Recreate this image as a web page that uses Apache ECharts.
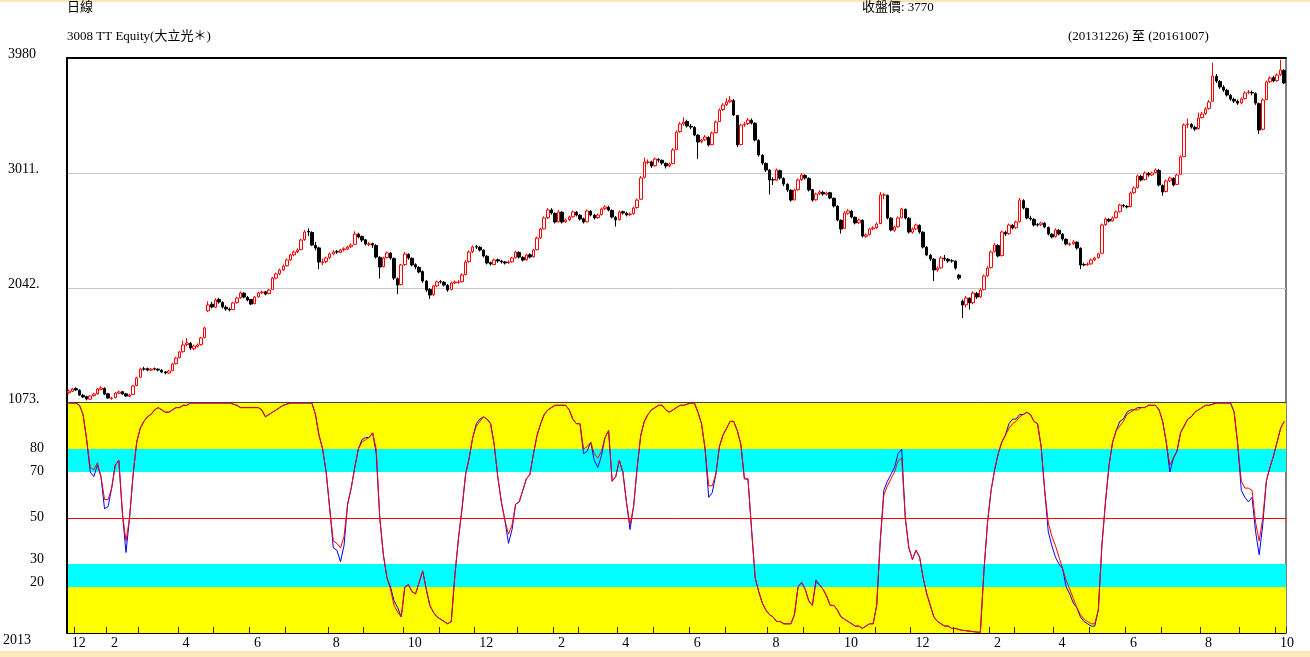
<!DOCTYPE html>
<html><head><meta charset="utf-8">
<script src="https://cdn.jsdelivr.net/npm/echarts@6/dist/echarts.min.js"></script>
<style>html,body{margin:0;padding:0;background:#fff;}#c{width:1310px;height:657px;}</style>
</head><body><div id="c"></div>
<script>
// Each sample = about two trading days, 2013-12-26 .. 2016-10-07
const opens = [1160,1172,1195,1180,1138,1126,1105,1135,1150,1188,
1195,1150,1112,1118,1155,1168,1150,1130,1145,1220,
1290,1360,1362,1350,1361,1358,1350,1335,1325,1345,
1405,1455,1505,1565,1575,1530,1550,1565,1625,1850,
1905,1880,1945,1920,1880,1862,1860,1918,1960,1998,
1962,1945,1910,1968,2002,2010,1995,2030,2125,2162,
2195,2230,2280,2322,2348,2365,2450,2520,2510,2400,
2380,2255,2265,2298,2330,2348,2342,2365,2370,2390,
2410,2495,2475,2448,2410,2415,2400,2300,2222,2298,
2335,2290,2120,2070,2240,2325,2292,2238,2215,2180,
2100,2030,1985,2060,2095,2090,2065,2030,2085,2090,
2095,2155,2265,2348,2390,2385,2360,2310,2255,2240,
2280,2268,2262,2255,2262,2298,2342,2300,2280,2322,
2305,2365,2465,2540,2635,2700,2670,2600,2680,2600,
2618,2642,2680,2655,2625,2600,2688,2655,2635,2660,
2710,2722,2695,2638,2618,2685,2672,2660,2668,2720,
2790,2975,3100,3105,3072,3125,3118,3092,3072,3090,
3210,3360,3425,3445,3405,3395,3330,3275,3290,3310,
3250,3350,3445,3545,3588,3612,3620,3495,3250,3418,
3428,3455,3430,3285,3160,3092,3035,2955,2950,3030,
2965,2915,2865,2785,2870,2955,2990,2965,2870,2785,
2838,2848,2832,2845,2798,2730,2612,2545,2672,2688,
2638,2592,2612,2478,2492,2540,2550,2585,2825,2822,
2630,2528,2558,2635,2705,2630,2512,2540,2570,2512,
2385,2318,2285,2195,2212,2292,2285,2272,2268,2150,
1930,1900,1955,1918,1995,1968,2030,2145,2215,2350,
2400,2315,2510,2500,2570,2550,2600,2778,2712,2630,
2620,2575,2575,2588,2552,2495,2475,2528,2495,2452,
2410,2415,2428,2375,2240,2238,2245,2280,2298,2335,
2575,2620,2608,2635,2685,2738,2730,2728,2845,2888,
2982,2955,3008,2995,3015,3032,2905,2855,2945,2965,
2915,3000,3150,3420,3420,3395,3385,3478,3512,3555,
3615,3825,3782,3735,3708,3665,3632,3615,3602,3638,
3690,3690,3680,3595,3380,3630,3780,3815,3790,3840,3875];
const closes = [1174,1191,1183,1140,1124,1107,1132,1149,1191,1200,
1149,1115,1115,1157,1166,1149,1132,1140,1216,1284,
1359,1359,1351,1359,1359,1351,1334,1326,1343,1402,
1452,1503,1562,1579,1536,1553,1562,1621,1705,1899,
1882,1941,1924,1882,1865,1857,1916,1958,2000,1966,
1941,1907,1966,2000,2008,1991,2025,2126,2160,2194,
2227,2278,2320,2345,2362,2446,2514,2514,2404,2379,
2261,2261,2295,2329,2345,2345,2362,2371,2387,2404,
2497,2472,2446,2413,2413,2404,2303,2219,2295,2337,
2295,2126,2067,2236,2329,2295,2236,2219,2177,2101,
2025,1983,2059,2093,2093,2067,2025,2084,2093,2093,
2152,2261,2345,2387,2387,2362,2312,2253,2244,2278,
2270,2261,2253,2261,2295,2345,2303,2278,2320,2303,
2362,2463,2539,2632,2699,2674,2598,2683,2598,2615,
2640,2683,2657,2623,2598,2691,2657,2632,2657,2708,
2725,2699,2640,2615,2683,2674,2657,2666,2716,2783,
2969,3104,3104,3070,3129,3120,3095,3070,3087,3205,
3356,3424,3440,3407,3398,3331,3272,3289,3314,3247,
3348,3440,3542,3584,3609,3626,3500,3247,3415,3424,
3457,3432,3289,3163,3095,3036,2952,2952,3036,2969,
2918,2868,2783,2868,2952,2994,2969,2868,2783,2834,
2851,2834,2842,2800,2733,2615,2539,2674,2691,2640,
2590,2615,2480,2489,2539,2548,2581,2826,2826,2632,
2531,2556,2632,2708,2632,2514,2539,2573,2514,2387,
2320,2287,2194,2210,2295,2287,2270,2270,2210,2126,
1899,1958,1916,2000,1966,2025,2143,2210,2345,2404,
2312,2514,2497,2573,2548,2598,2783,2716,2632,2623,
2573,2573,2590,2556,2497,2472,2531,2497,2455,2413,
2413,2430,2379,2236,2236,2244,2278,2295,2329,2573,
2623,2606,2632,2683,2741,2733,2725,2842,2885,2986,
2952,3011,2994,3011,3036,2910,2851,2944,2969,2910,
2994,3146,3415,3424,3398,3381,3474,3508,3550,3609,
3828,3786,3736,3710,3668,3634,3617,3600,3634,3685,
3693,3685,3600,3373,3626,3778,3811,3786,3836,3879,3770];
const lows = [1150,1165,1175,1132,1115,1095,1100,1128,1145,1180,
1140,1108,1100,1112,1148,1142,1125,1122,1140,1215,
1285,1345,1340,1342,1348,1340,1325,1315,1318,1340,
1398,1448,1498,1550,1520,1518,1540,1558,1618,1840,
1870,1875,1910,1870,1850,1845,1855,1910,1950,1955,
1930,1898,1905,1960,1992,1980,1988,2025,2115,2150,
2185,2222,2270,2310,2335,2360,2440,2480,2395,2360,
2200,2235,2250,2285,2318,2330,2335,2350,2360,2380,
2405,2460,2430,2400,2395,2380,2290,2120,2215,2290,
2280,2110,1990,2065,2230,2280,2225,2200,2165,2085,
2010,1950,1975,2050,2080,2055,2010,2022,2075,2078,
2090,2150,2255,2335,2370,2350,2300,2240,2230,2235,
2255,2248,2240,2245,2255,2290,2290,2265,2272,2292,
2300,2360,2455,2535,2625,2660,2585,2595,2585,2590,
2605,2635,2645,2610,2585,2595,2645,2620,2625,2652,
2698,2688,2628,2560,2610,2660,2645,2648,2660,2712,
2785,2965,3085,3055,3065,3100,3080,3050,3060,3085,
3205,3350,3410,3395,3380,3320,3130,3262,3280,3235,
3245,3345,3440,3535,3575,3600,3490,3230,3245,3400,
3415,3420,3278,3150,3080,3020,2830,2910,2945,2955,
2900,2850,2770,2780,2862,2945,2955,2855,2770,2778,
2825,2820,2820,2790,2720,2605,2500,2540,2660,2628,
2578,2580,2468,2465,2485,2530,2540,2580,2790,2620,
2520,2515,2550,2628,2620,2500,2500,2530,2500,2375,
2310,2270,2100,2180,2205,2270,2255,2255,2195,2110,
1790,1880,1860,1905,1950,1960,2022,2135,2205,2340,
2300,2308,2480,2490,2535,2540,2595,2705,2620,2610,
2560,2560,2565,2545,2485,2460,2468,2485,2440,2400,
2395,2405,2365,2200,2225,2228,2238,2270,2290,2330,
2565,2595,2600,2628,2678,2720,2712,2722,2835,2880,
2940,2948,2980,2985,3005,2898,2820,2848,2935,2898,
2908,2995,3145,3390,3385,3365,3378,3470,3500,3545,
3610,3770,3720,3695,3655,3620,3600,3585,3590,3630,
3675,3665,3585,3340,3370,3625,3770,3775,3780,3830,3760];
const highs = [1185,1200,1205,1188,1150,1135,1140,1158,1198,1215,
1205,1158,1125,1165,1178,1175,1158,1150,1225,1295,
1370,1378,1372,1368,1372,1365,1358,1342,1350,1410,
1462,1512,1600,1620,1588,1565,1575,1630,1715,1930,
1925,1955,1960,1930,1895,1878,1925,1968,2012,2008,
1975,1950,1975,2010,2020,2018,2035,2135,2172,2205,
2240,2290,2332,2358,2375,2458,2530,2545,2520,2430,
2390,2290,2305,2340,2360,2362,2372,2385,2398,2418,
2520,2508,2485,2455,2428,2425,2410,2310,2305,2350,
2345,2300,2130,2245,2345,2335,2300,2250,2225,2190,
2110,2040,2068,2105,2108,2100,2075,2095,2105,2108,
2165,2275,2360,2400,2405,2395,2368,2318,2265,2290,
2290,2280,2270,2275,2305,2355,2350,2310,2330,2335,
2372,2475,2550,2645,2715,2715,2680,2700,2690,2628,
2652,2695,2690,2665,2635,2702,2698,2665,2668,2720,
2740,2735,2705,2648,2695,2695,2685,2678,2728,2795,
2985,3140,3125,3115,3140,3135,3125,3100,3098,3220,
3370,3440,3480,3460,3425,3405,3340,3300,3330,3320,
3360,3452,3555,3600,3640,3660,3635,3500,3425,3440,
3475,3470,3440,3295,3170,3100,3045,2975,3048,3040,
2975,2925,2875,2880,2965,3010,3000,2975,2878,2845,
2865,2860,2855,2852,2805,2740,2620,2690,2705,2700,
2645,2628,2620,2502,2550,2562,2595,2850,2840,2830,
2640,2568,2645,2718,2712,2640,2552,2585,2578,2520,
2395,2330,2295,2225,2310,2320,2295,2285,2275,2160,
1945,1975,1965,2015,2010,2040,2155,2225,2360,2420,
2412,2525,2525,2585,2580,2610,2800,2790,2720,2650,
2630,2590,2600,2595,2560,2505,2545,2540,2505,2460,
2425,2445,2435,2385,2255,2258,2290,2305,2340,2585,
2635,2630,2645,2695,2752,2750,2742,2855,2898,2998,
2995,3025,3020,3022,3050,3045,2915,2955,2980,2975,
3005,3160,3428,3470,3432,3410,3520,3525,3565,3625,
3940,3845,3795,3750,3720,3678,3645,3630,3648,3700,
3710,3705,3690,3605,3640,3790,3825,3830,3850,3965,3885];
const kValues = [100,100,100,99,95,84,70,68,73,68,
54,55,63,73,75,52,35,50,69,83,
89,92,94,95,97,98,97,96,96,97,
98,98,99,99,100,100,100,100,100,100,
100,100,100,100,100,100,99.5,99,98,98,
98,98,98,98,97,94,95,96,97,98,
99,99.5,100,100,100,100,100,100,100,95,
86,80,70,54,37,36,31,38,56,63,
72,80,84,85,85,87,78,50,34,24,
20,14,11,7,20,21,18,17,22,27,
19,12,9,7,6,5,4,5,25,41,
54,69,76,85,91,93,94,93,91,82,
68,57,49,39,45,56,57,62,67,69,
78,86,91,95,97,98,99,99,99,99,
97,93,91,91,78,79,83,75,72,77,
85,88,66,68,75,70,57,45,55,72,
86,92,95,97,98,99,99,97,96,97,
98,99,99,99.5,100,100,96,91,80,59,
61,69,81,86,89,92,92,88,82,67,
67,45,24,18,13,10,8,7,5,5,
4,4,4,8,20,22,19,14,12,23,
21,19,16,12,12,10,7,6,5,4,
3,3,2,3,4,4,12,40,62,66,
69,72,78,80,50,37,32,36,33,24,
17,12,7,5,4,3,3,2,2,1.5,
1.2,1,0.8,0.6,0.4,0.3,27,48,62,71,
78,83,86,91,93,93,95,95,96,95,
92,91,81,62,44,38,33,30,28,20,
17,13,11,7,5,4,3,3,10,38,
57,73,83,88,92,93,96,97,97,98,
98,98,99,99,99,97,92,83,70,76,
79,87,90,93,94,96,97,98,99,99,
99.5,100,100,100,100,100,96,82,62,59,
57,59,44,34,47,66,72,77,83,89,92];
const dValues = [100,100,100,99,95,84,72,71,74,68,
58,58,63,73,75,52,40,50,69,83,
89,92,94,95,97,98,97,96,96,97,
98,98,99,99,100,100,100,100,100,100,
100,100,100,100,100,100,99.5,99,98,98,
98,98,98,98,97,94,95,96,97,98,
99,99.5,100,100,100,100,100,100,100,95,
86,80,70,54,40,39,37,42,56,63,
72,80,83,84,85,87,80,50,34,24,
19,12,9,7,20,21,18,17,22,27,
19,12,9,7,6,5,4,5,25,41,
54,69,76,85,90,92,94,93,91,82,
68,57,49,43,47,56,57,62,67,69,
78,86,91,95,97,98,99,99,99,99,
97,93,91,91,80,81,83,78,76,79,
85,88,66,68,75,70,57,47,55,72,
86,92,95,97,98,99,99,97,96,97,
98,99,99,99.5,100,100,96,91,80,64,
64,69,81,86,89,92,92,88,82,67,
67,45,24,18,13,10,8,7,5,5,
4,4,4,8,20,22,19,14,12,22,
21,19,16,12,12,10,7,6,5,4,
3,3,2,3,4,4,12,40,60,64,
67,70,75,76,50,37,32,36,33,24,
17,12,7,5,4,3,3,2,2,1.5,
1.2,1,0.8,0.6,0.4,0.3,27,48,62,71,
78,83,86,89,91,92,94,95,96,95,
92,91,81,62,48,42,38,33,28,23,
19,15,11,8,6,5,4,4,10,38,
57,73,83,88,90,92,95,96,97,97,
98,98,99,99,99,97,92,83,73,76,
79,87,90,93,94,96,97,98,99,99,
99.5,100,100,100,100,100,96,82,66,63,
63,62,48,40,50,66,72,77,83,89,92];
// month starts (sample index) and even-month labels
const monthTickIdx = [2,11,20,31,41,51,61,73,83,94,104,114,126,136,143,154,164,174,184,196,206,216,226,236,248,258,265,276,286,296,306,317,328,338];
const monthLabelIdx = [0,11,31,51,73,94,114,136,154,174,196,216,236,258,276,296,317,338];
const monthLabelText = ['12','2','4','6','8','10','12','2','4','6','8','10','12','2','4','6','8','10'];
const priceTicks = [1073, 2042, 3011, 3980];
const kdLabels = [20, 30, 50, 70, 80];
const bands = [[80,100,'#ffff00'],[70,80,'#00ffff'],[20,30,'#00ffff'],[0,20,'#ffff00']];

const cats = closes.map((_, i) => String(i));
const ohlc = closes.map((c, i) => [opens[i], c, lows[i], highs[i]]);
const tickSet = new Set(monthTickIdx);
const labelMap = {};
monthLabelIdx.forEach((ix, j) => { labelMap[ix] = monthLabelText[j]; });
const FONT = '"Liberation Serif","Noto Sans CJK TC",serif';
const txt = {fontFamily: FONT, fontSize: 14, color: '#000'};

const chart = echarts.init(document.getElementById('c'), null, {renderer: 'canvas'});
chart.setOption({
  animation: false,
  backgroundColor: '#ffffff',
  grid: [
    {left: 67, right: 24, top: 58, height: 345, show: true, borderColor: '#000', borderWidth: 1, outerBoundsMode: 'none', containLabel: false},
    {left: 67, right: 24, top: 403, height: 230, show: true, borderColor: '#000', borderWidth: 1, outerBoundsMode: 'none', containLabel: false}
  ],
  xAxis: [
    {type: 'category', gridIndex: 0, data: cats, position: 'top', axisLine: {show: true, onZero: false, lineStyle: {color: '#000', width: 2}}, axisTick: {show: false}, axisLabel: {show: false}, splitLine: {show: false}},
    {type: 'category', gridIndex: 1, data: cats, z: 10,
      axisLine: {show: true, onZero: false, lineStyle: {color: '#000', width: 1}},
      axisTick: {show: true, inside: true, length: 6, lineStyle: {color: '#333'}, interval: (i) => tickSet.has(i)},
      axisLabel: {show: true, interval: (i) => labelMap[i] !== undefined, formatter: (v, i) => labelMap[i] || '',
        align: 'left', margin: 3, color: '#000', fontFamily: FONT, fontSize: 14, padding: [0, 0, 0, 3]},
      splitLine: {show: false}}
  ],
  yAxis: [
    {type: 'value', gridIndex: 0, min: priceTicks[0], max: priceTicks[3], interval: priceTicks[1] - priceTicks[0],
      axisLine: {show: true, lineStyle: {color: '#000', width: 2}}, axisTick: {show: false},
      axisLabel: {align: 'left', margin: 59, color: '#000', fontFamily: FONT, fontSize: 14,
        formatter: (v) => '{u|' + (Math.round(v) === priceTicks[3] ? String(priceTicks[3]) : Math.round(v) + '.') + '}',
        rich: {u: Object.assign({padding: [0, 0, 8, 0]}, txt)}},
      splitLine: {show: true, showMinLine: false, showMaxLine: false, lineStyle: {color: '#c8c8c8', width: 1}}},
    {type: 'value', gridIndex: 1, min: 0, max: 100, z: 10,
      axisLine: {show: true, lineStyle: {color: '#000', width: 2}}, axisTick: {show: false},
      axisLabel: {customValues: kdLabels, margin: 23, color: '#000', fontFamily: FONT, fontSize: 14,
        formatter: (v) => (v <= 30 ? '{u|' + v + '}' : '{n|' + v + '}'),
        rich: {u: Object.assign({padding: [0, 0, 9, 0]}, txt), n: Object.assign({padding: [0, 0, 2, 0]}, txt)}},
      splitLine: {show: false}}
  ],
  series: [
    {type: 'candlestick', xAxisIndex: 0, yAxisIndex: 0, data: ohlc, barWidth: 3,
      itemStyle: {color: '#ffffff', color0: '#000000', borderColor: '#ff0000', borderColor0: '#000000', borderWidth: 1}},
    {type: 'line', xAxisIndex: 1, yAxisIndex: 1, data: kValues, symbol: 'none', silent: true,
      lineStyle: {color: '#0000ff', width: 1}, z: 3,
      markArea: {silent: true, data: bands.map(b => [{yAxis: b[0], itemStyle: {color: b[2], opacity: 1}}, {yAxis: b[1]}])},
      markLine: {silent: true, symbol: 'none', label: {show: false}, lineStyle: {color: '#ff0000', width: 1, type: 'solid'}, data: [{yAxis: 50}]}},
    {type: 'line', xAxisIndex: 1, yAxisIndex: 1, data: dValues, symbol: 'none', silent: true,
      lineStyle: {color: '#ff0000', width: 1}, z: 4}
  ],
  graphic: [
    {type: 'rect', left: 0, top: 0, shape: {width: 1310, height: 2}, style: {fill: '#ffe4b5'}, silent: true},
    {type: 'rect', left: 0, top: 651, shape: {width: 1310, height: 6}, style: {fill: '#ffe8bc'}, silent: true},
    {type: 'text', left: 67, top: 1, style: {text: '日線', font: '13px ' + FONT, fill: '#000'}},
    {type: 'text', left: 862, top: 1, style: {text: '收盤價: 3770', font: '13px ' + FONT, fill: '#000'}},
    {type: 'text', left: 67, top: 30, style: {text: '3008 TT Equity(大立光＊)', font: '13px ' + FONT, fill: '#000'}},
    {type: 'text', left: 1068, top: 30, style: {text: '(20131226) 至 (20161007)', font: '13px ' + FONT, fill: '#000'}},
    {type: 'text', left: 3, top: 633, style: {text: '2013', font: '14px ' + FONT, fill: '#000'}}
  ]
});
</script></body></html>
